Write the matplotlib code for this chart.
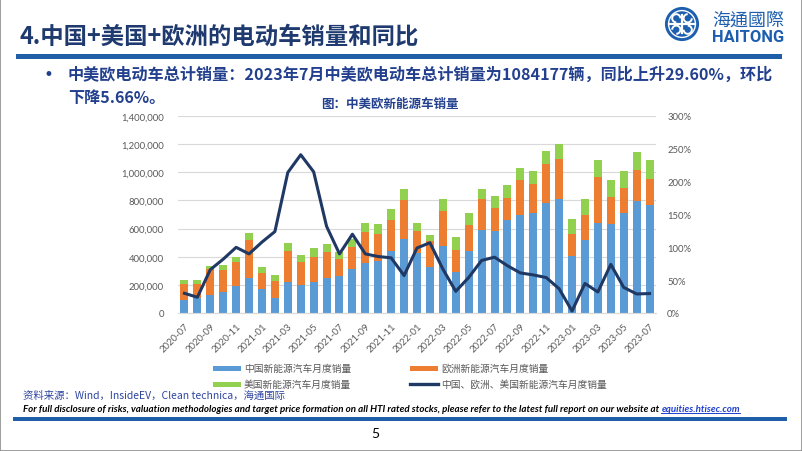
import matplotlib
matplotlib.use('Agg')
import matplotlib.pyplot as plt
from matplotlib.patches import Rectangle, Circle, Arc
from matplotlib.lines import Line2D
from matplotlib.ticker import FuncFormatter, MultipleLocator
import numpy as np

plt.rcParams['font.family'] = ['Lato', 'Noto Sans CJK SC', 'DejaVu Sans']

W, H = 802, 452

months = ['2020-07', '2020-08', '2020-09', '2020-10', '2020-11', '2020-12',
          '2021-01', '2021-02', '2021-03', '2021-04', '2021-05', '2021-06',
          '2021-07', '2021-08', '2021-09', '2021-10', '2021-11', '2021-12',
          '2022-01', '2022-02', '2022-03', '2022-04', '2022-05', '2022-06',
          '2022-07', '2022-08', '2022-09', '2022-10', '2022-11', '2022-12',
          '2023-01', '2023-02', '2023-03', '2023-04', '2023-05', '2023-06',
          '2023-07']
china_sales = [90000, 105000, 130000, 152000, 194000, 246000, 172000, 104000, 218000,
               199000, 218000, 246000, 265000, 312000, 352000, 371000, 442000, 525000,
               426000, 329000, 477000, 293000, 442000, 589000, 584000, 660000, 700000,
               709000, 782000, 809000, 404000, 520000, 643000, 631000, 709000, 799000,
               771000]
europe_sales = [115000, 100000, 181000, 153000, 170000, 274000, 112000, 120000, 224000,
                161000, 177000, 189000, 118000, 158000, 225000, 189000, 218000, 279000,
                156000, 184000, 249000, 154000, 182000, 220000, 161000, 156000, 245000,
                211000, 280000, 283000, 156000, 175000, 324000, 194000, 178000, 220000,
                184000]
us_sales = [28000, 28000, 21000, 35000, 36000, 45000, 41000, 44000, 55000,
            51000, 64000, 54000, 47000, 55000, 61000, 71000, 82000, 80000,
            61000, 40000, 87000, 92000, 90000, 75000, 87000, 92000, 85000,
            87000, 92000, 107000, 107000, 118000, 120000, 120000, 125000, 125000,
            129000]
yoy_pct = [30, 24, 66, 82, 100, 90, 108, 124, 214, 241, 215, 132, 90, 120, 90, 86,
           84, 57, 99, 107, 67, 33, 54, 80, 85, 72, 61, 58, 54, 37, 3, 45, 32, 74,
           39, 29, 29.6]

legend_labels = ['中国新能源汽车月度销量', '欧洲新能源汽车月度销量',
                 '美国新能源汽车月度销量', '中国、欧洲、美国新能源汽车月度销量']

C_CN = '#5B9BD5'
C_EU = '#ED7D31'
C_US = '#92D050'
C_LINE = '#1F3864'
NAVY = '#1F3A6E'
TXT_BLUE = '#23408E'
BAR_BLUE = '#1F5FA8'
GRAY = '#595959'

fig = plt.figure(figsize=(W / 100, H / 100), dpi=100)

def fx(x):
    return x / W

def fy(y):
    return 1 - y / H

# outer frame
fig.add_artist(Rectangle((0, 0), 1, 1, transform=fig.transFigure, fill=False,
                         edgecolor='#8C8C8C', lw=1.2))

# header
title = fig.text(fx(20), fy(37), '4.中国+美国+欧洲的电动车销量和同比',
                 fontsize=17, fontweight='bold', color=NAVY, va='center', ha='left',
                 family=['Noto Sans CJK SC'])
fig.add_artist(Rectangle((fx(16), fy(59.5)), fx(766), 5 / H, transform=fig.transFigure,
                         color=BAR_BLUE, lw=0))

# logo
lax = fig.add_axes([fx(664), fy(44), fx(36), 38 / H])
lax.set_xlim(-1.1, 1.1)
lax.set_ylim(-1.1, 1.1)
lax.set_aspect('equal')
lax.axis('off')
lax.add_patch(Circle((0, 0), 1.0, color='#1D5FAE'))
lax.add_patch(Circle((0, 0), 0.82, fill=False, ec='white', lw=1.0))
lax.plot([-0.8, 0.8], [0.0, 0.0], color='white', lw=1.6)
lax.plot([0.0, 0.0], [-0.55, 0.55], color='white', lw=1.6)
for cx, cy, th in [(-0.35, 0.35, 0), (0.35, 0.35, 90), (0.35, -0.35, 180), (-0.35, -0.35, 270)]:
    lax.add_patch(Arc((cx, cy), 0.5, 0.5, theta1=th, theta2=th + 270, color='white', lw=1.4))
logo1 = fig.text(fx(712), fy(21), '海通國際', fontsize=14, color='#1D5FAE', va='center',
                 ha='left', family=['Noto Sans CJK TC'])
logo2 = fig.text(fx(712), fy(37), 'HAITONG', fontsize=12, color='#1D5FAE', va='center',
                 ha='left', fontweight='bold', family=['Roboto'])

# bullet
fig.text(fx(44), fy(75), '•', fontsize=12, color=TXT_BLUE, va='center', ha='left',
         family=['DejaVu Sans'])
b1 = fig.text(fx(68), fy(75),
              '中美欧电动车总计销量：2023年7月中美欧电动车总计销量为1084177辆，同比上升29.60%，环比',
              fontsize=12, fontweight='bold', color=TXT_BLUE, va='center', ha='left',
              family=['Noto Sans CJK SC'])
b2 = fig.text(fx(68), fy(98), '下降5.66%。', fontsize=12, fontweight='bold', color=TXT_BLUE,
              va='center', ha='left', family=['Noto Sans CJK SC'])
ctitle = fig.text(fx(390), fy(104), '图：中美欧新能源车销量', fontsize=9, fontweight='bold',
                  color=TXT_BLUE, va='center', ha='center', family=['Noto Sans CJK SC'])

# chart
ax = fig.add_axes([fx(178), fy(314), fx(656 - 178), (314 - 117) / H])
x = np.arange(len(months))
cn = np.array(china_sales)
eu = np.array(europe_sales)
us = np.array(us_sales)
bw = 0.62
ax.bar(x, cn, bw, color=C_CN, zorder=2)
ax.bar(x, eu, bw, bottom=cn, color=C_EU, zorder=2)
ax.bar(x, us, bw, bottom=cn + eu, color=C_US, zorder=2)
ax.set_xlim(-0.5, len(months) - 0.5)
ax.set_ylim(0, 1400000)
ax.yaxis.set_major_locator(MultipleLocator(200000))
ax.yaxis.set_major_formatter(FuncFormatter(lambda v, p: f'{int(v):,}'))
ax.grid(axis='y', color='#D9D9D9', lw=0.8, zorder=0)
ax.set_axisbelow(True)
for s in ['top', 'right', 'left']:
    ax.spines[s].set_visible(False)
ax.spines['bottom'].set_color('#D9D9D9')
ax.spines['bottom'].set_linewidth(0.8)
ax.tick_params(axis='y', length=0, pad=10, labelsize=6.8, labelcolor=GRAY)
ax.set_xticks(x[::2])
ax.set_xticklabels(months[::2], rotation=45, ha='right', rotation_mode='anchor')
ax.tick_params(axis='x', length=0, pad=6, labelsize=6.8, labelcolor=GRAY)

ax2 = ax.twinx()
ax2.plot(x, np.array(yoy_pct) / 100, color=C_LINE, lw=2.2, zorder=3)
ax2.set_ylim(0, 3)
ax2.yaxis.set_major_locator(MultipleLocator(0.5))
ax2.yaxis.set_major_formatter(FuncFormatter(lambda v, p: f'{v * 100:.0f}%'))
for s in ['top', 'right', 'left', 'bottom']:
    ax2.spines[s].set_visible(False)
ax2.tick_params(axis='y', length=0, pad=8, labelsize=6.8, labelcolor=GRAY)

# legend (manual, Excel-like two columns)
leg_pos = [(213, 369), (410, 369), (213, 385), (410, 385)]
leg_col = [C_CN, C_EU, C_US, C_LINE]
for i, ((lx, ly), lab, col) in enumerate(zip(leg_pos, legend_labels, leg_col)):
    if i < 3:
        fig.add_artist(Rectangle((fx(lx), fy(ly + 2.5)), fx(28), 5 / H,
                                 transform=fig.transFigure, color=col, lw=0))
    else:
        fig.add_artist(Line2D([fx(lx), fx(lx + 28)], [fy(ly), fy(ly)],
                              transform=fig.transFigure, color=col, lw=2.4))
    fig.text(fx(lx + 31), fy(ly), lab, fontsize=7, color=GRAY, va='center', ha='left',
             family=['Noto Sans CJK SC'])

# footer
fig.text(fx(23), fy(396), '资料来源：Wind，InsideEV，Clean technica，海通国际', fontsize=7.5,
         color='#2E45A0', va='center', ha='left', family=['Noto Sans CJK SC'])
disc = fig.text(fx(23), fy(410),
                'For full disclosure of risks, valuation methodologies and target price formation on all HTI rated stocks, please refer to the latest full report on our website at ',
                fontsize=7, fontweight='bold', style='italic', color='black', va='center',
                ha='left', family=['Lato'])
link = fig.text(fx(600), fy(410), 'equities.htisec.com', fontsize=7, fontweight='bold',
                style='italic', color='#1F3FD0', va='center', ha='left',
                family=['Lato'])
fig.add_artist(Rectangle((fx(13), fy(422)), fx(774), 4.5 / H, transform=fig.transFigure,
                         color=BAR_BLUE, lw=0))
fig.text(fx(375), fy(434), '5', fontsize=10, color='black', va='center', ha='center')

# fit text widths to the reference layout
fig.canvas.draw()
r = fig.canvas.get_renderer()

def fit(t, target):
    w = t.get_window_extent(r).width
    t.set_fontsize(t.get_fontsize() * target / w)

fit(title, 399)
fit(b1, 702)
b2.set_fontsize(b1.get_fontsize())
fit(ctitle, 138)
fit(logo1, 72)
fit(logo2, 72)
w1 = disc.get_window_extent(r).width
w2 = link.get_window_extent(r).width
scale = (748 - 23) / (w1 + w2)
disc.set_fontsize(disc.get_fontsize() * scale)
link.set_fontsize(link.get_fontsize() * scale)
fig.canvas.draw()
bb = disc.get_window_extent(r)
link.set_x(bb.x1 / W)
fig.canvas.draw()
lb = link.get_window_extent(r)
fig.add_artist(Line2D([lb.x0 / W, lb.x1 / W], [(lb.y0 + 1) / H, (lb.y0 + 1) / H],
                      transform=fig.transFigure, color='#1F3FD0', lw=0.7))

fig.savefig('out.png', dpi=100)
